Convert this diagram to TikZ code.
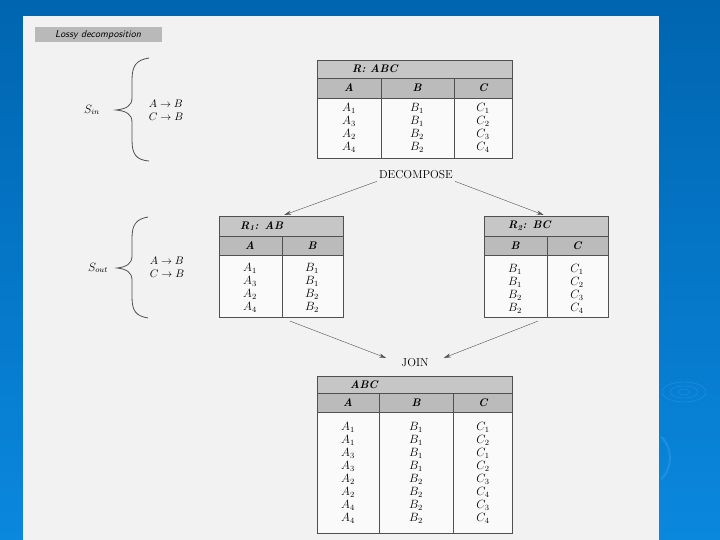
\documentclass[tikz,border=0pt]{standalone}
\usepackage{xcolor}
\usepackage{tikz}
\usetikzlibrary{arrows.meta}

\definecolor{slideblue}{HTML}{0065B0}
\definecolor{slidebluelight}{HTML}{0A88DE}
\definecolor{ripple}{HTML}{3AA0EA}
\definecolor{pagewhite}{HTML}{F2F2F2}
\definecolor{titlegray}{HTML}{C6C6C6}
\definecolor{headgray}{HTML}{BBBBBB}
\definecolor{rulegray}{HTML}{505050}

\begin{document}
\begin{tikzpicture}[
        x=1pt, y=-1pt,
        >={Stealth[length=7pt,width=4pt]},
        titlerow/.style={rectangle, draw=rulegray, thick, fill=titlegray, anchor=north west, inner sep=0pt},
        headrow/.style={rectangle, draw=rulegray, thick, fill=headgray, anchor=north west, inner sep=0pt},
        bodyrow/.style={rectangle, draw=rulegray, thick, fill=white!60!pagewhite, anchor=north west, inner sep=0pt},
        tabletitle/.style={anchor=west, inner sep=0pt, font=\fontsize{11}{12}\selectfont\bfseries\itshape},
        colhead/.style={inner sep=0pt, font=\fontsize{11}{12}\selectfont\bfseries\itshape},
        cellcol/.style={align=center, inner sep=0pt, font=\fontsize{11.5}{13}\selectfont},
        fds/.style={align=left, inner sep=0pt, font=\fontsize{10.5}{13}\selectfont},
        steplabel/.style={inner sep=2pt, font=\fontsize{11.5}{13}\selectfont},
        flow/.style={->, draw=rulegray},
        braceline/.style={draw=rulegray, line width=0.8pt}
    ]

        % Slide background and scanned page
        \useasboundingbox (0,0) rectangle (720,540);
        \shade[top color=slideblue, bottom color=slidebluelight] (0,0) rectangle (720,540);
        \draw[ripple, opacity=0.6] (684,392) ellipse (22 and 10);
        \draw[ripple, opacity=0.6] (684,392) ellipse (14 and 6);
        \draw[ripple, opacity=0.6] (684,392) ellipse (6 and 3);
        \draw[ripple, opacity=0.45, line width=2pt] (640,458) ++(45:30) arc (45:-45:30);
        \fill[pagewhite] (23,16) rectangle (659,540);

        % Caption
        \node[rectangle, fill=gray!55, minimum width=127pt, minimum height=15pt, inner sep=0pt,
              font=\sffamily\itshape\fontsize{10}{12}\selectfont] (caption) at (98,35) {Lossy decomposition};

        % Input dependencies
        \node[inner sep=0pt, font=\fontsize{11.5}{13}\selectfont] (s_in) at (92,110) {$S_{in}$};
        \draw[braceline] (149,58) .. controls (136,60) and (132,66) .. (132,80) -- (132,98)
            .. controls (132,106) and (126,109) .. (116,110) .. controls (126,111) and (132,114) .. (132,122)
            -- (132,140) .. controls (132,154) and (136,160) .. (149,161);
        \node[fds] (fd_in) at (166,110) {$A \rightarrow B$\\$C \rightarrow B$};

        % Relation R: ABC
        \node[titlerow, minimum width=195pt, minimum height=18pt] (r_title) at (317,60) {};
        \node[tabletitle] (r_name) at (352,69) {R: ABC};
        \node[headrow, minimum width=195pt, minimum height=20pt] (r_head) at (317,78) {};
        \node[bodyrow, minimum width=195pt, minimum height=60pt] (r_body) at (317,98) {};
        \draw[rulegray, thick] (381,78) -- (381,158);
        \draw[rulegray, thick] (454,78) -- (454,158);
        \node[colhead] (r_ha) at (349,88) {A};
        \node[colhead] (r_hb) at (417,88) {B};
        \node[colhead] (r_hc) at (483,88) {C};
        \node[cellcol] (r_a) at (349,128) {$A_1$\\$A_3$\\$A_2$\\$A_4$};
        \node[cellcol] (r_b) at (417,128) {$B_1$\\$B_1$\\$B_2$\\$B_2$};
        \node[cellcol] (r_c) at (483,128) {$C_1$\\$C_2$\\$C_3$\\$C_4$};

        % Decompose step
        \node[steplabel] (decompose) at (416,175) {DECOMPOSE};

        % Relation R1: AB
        \node[titlerow, minimum width=124pt, minimum height=20pt] (r1_title) at (219,216) {};
        \node[tabletitle] (r1_name) at (240,226) {R\textsubscript{1}: AB};
        \node[headrow, minimum width=124pt, minimum height=19pt] (r1_head) at (219,236) {};
        \node[bodyrow, minimum width=124pt, minimum height=62pt] (r1_body) at (219,255) {};
        \draw[rulegray, thick] (282,236) -- (282,317);
        \node[colhead] (r1_ha) at (250,246) {A};
        \node[colhead] (r1_hb) at (312,246) {B};
        \node[cellcol] (r1_a) at (250,288) {$A_1$\\$A_3$\\$A_2$\\$A_4$};
        \node[cellcol] (r1_b) at (312,288) {$B_1$\\$B_1$\\$B_2$\\$B_2$};

        % Relation R2: BC
        \node[titlerow, minimum width=124pt, minimum height=20pt] (r2_title) at (484,216) {};
        \node[tabletitle] (r2_name) at (508,226) {R\textsubscript{2}: BC};
        \node[headrow, minimum width=124pt, minimum height=19pt] (r2_head) at (484,236) {};
        \node[bodyrow, minimum width=124pt, minimum height=62pt] (r2_body) at (484,255) {};
        \draw[rulegray, thick] (547,236) -- (547,317);
        \node[colhead] (r2_hb) at (515,246) {B};
        \node[colhead] (r2_hc) at (577,246) {C};
        \node[cellcol] (r2_b) at (515,289) {$B_1$\\$B_1$\\$B_2$\\$B_2$};
        \node[cellcol] (r2_c) at (577,289) {$C_1$\\$C_2$\\$C_3$\\$C_4$};

        % Output dependencies
        \node[inner sep=0pt, font=\fontsize{11.5}{13}\selectfont] (s_out) at (98,268) {$S_{out}$};
        \draw[braceline] (148,217) .. controls (136,219) and (132,225) .. (132,238) -- (132,256)
            .. controls (132,264) and (126,267) .. (117,268) .. controls (126,269) and (132,272) .. (132,280)
            -- (132,297) .. controls (132,311) and (136,316) .. (148,318);
        \node[fds] (fd_out) at (167,267) {$A \rightarrow B$\\$C \rightarrow B$};

        % Join step
        \node[steplabel] (join) at (415,363) {JOIN};

        % Relation ABC after join
        \node[titlerow, minimum width=195pt, minimum height=17pt] (abc_title) at (317,376) {};
        \node[tabletitle] (abc_name) at (350,384.5) {ABC};
        \node[headrow, minimum width=195pt, minimum height=19pt] (abc_head) at (317,393) {};
        \node[bodyrow, minimum width=195pt, minimum height=121pt] (abc_body) at (317,412) {};
        \draw[rulegray, thick] (379,393) -- (379,533);
        \draw[rulegray, thick] (453,393) -- (453,533);
        \node[colhead] (abc_ha) at (348,402.5) {A};
        \node[colhead] (abc_hb) at (416,402.5) {B};
        \node[colhead] (abc_hc) at (483,402.5) {C};
        \node[cellcol] (abc_a) at (348,472.5) {$A_1$\\$A_1$\\$A_3$\\$A_3$\\$A_2$\\$A_2$\\$A_4$\\$A_4$};
        \node[cellcol] (abc_b) at (416,472.5) {$B_1$\\$B_1$\\$B_1$\\$B_1$\\$B_2$\\$B_2$\\$B_2$\\$B_2$};
        \node[cellcol] (abc_c) at (483,472.5) {$C_1$\\$C_2$\\$C_1$\\$C_2$\\$C_3$\\$C_4$\\$C_3$\\$C_4$};

        % Connections
        \draw[flow, shorten >=3pt] (decompose.south west) -- (r1_title.north);
        \draw[flow, shorten >=3pt] (decompose.south east) -- (r2_title.north);
        \draw[flow, shorten <=9pt, shorten >=14pt] (r1_body.south) -- (join.west);
        \draw[flow, shorten <=9pt, shorten >=14pt] (r2_body.south) -- (join.east);

    \end{tikzpicture}
\end{document}
